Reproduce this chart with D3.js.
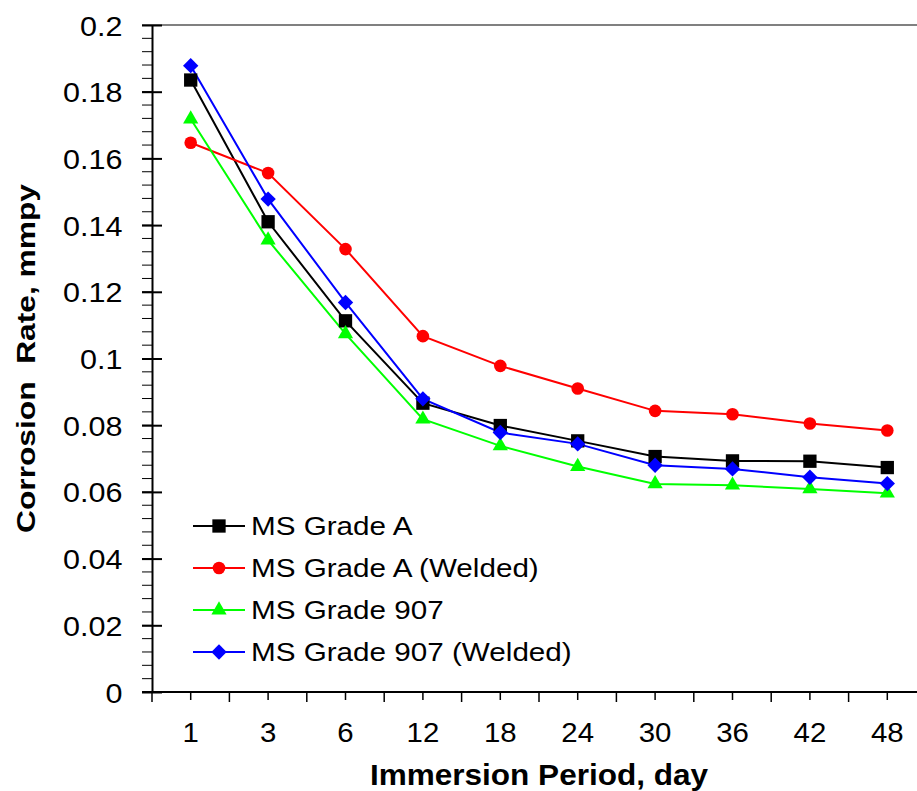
<!DOCTYPE html>
<html>
<head>
<meta charset="utf-8">
<script src="https://cdn.jsdelivr.net/npm/d3@7"></script>
<style>
  html, body { margin: 0; padding: 0; background: #fff; }
  svg { display: block; font-family: "Liberation Sans", Arial, sans-serif; }
</style>
</head>
<body>
<svg id="chart" width="917" height="791"></svg>
<script>
const categories = ["1", "3", "6", "12", "18", "24", "30", "36", "42", "48"];
const gradeA        = [0.1835, 0.1410, 0.1113, 0.0866, 0.0799, 0.0753, 0.0706, 0.0693, 0.0692, 0.0673];
const gradeAWelded  = [0.1647, 0.1556, 0.1328, 0.1067, 0.0978, 0.0910, 0.0843, 0.0833, 0.0805, 0.0784];
const grade907      = [0.1718, 0.1355, 0.1074, 0.0818, 0.0738, 0.0676, 0.0624, 0.0620, 0.0609, 0.0596];
const grade907Weld  = [0.1878, 0.1478, 0.1168, 0.0879, 0.0778, 0.0744, 0.0680, 0.0669, 0.0644, 0.0625];
const seriesNames   = ["MS Grade A", "MS Grade A (Welded)", "MS Grade 907", "MS Grade 907 (Welded)"];
const yTickValues   = [0, 0.02, 0.04, 0.06, 0.08, 0.1, 0.12, 0.14, 0.16, 0.18, 0.2];

const series = [
  { name: seriesNames[0], values: gradeA,       color: "#000000", symbol: d3.symbolSquare,   size: 177, rot: 0 },
  { name: seriesNames[1], values: gradeAWelded, color: "#ff0000", symbol: d3.symbolCircle,   size: 125, rot: 0 },
  { name: seriesNames[2], values: grade907,     color: "#00ff00", symbol: d3.symbolTriangle, size: 100, rot: 0 },
  { name: seriesNames[3], values: grade907Weld, color: "#0000ff", symbol: d3.symbolSquare,   size: 118, rot: 45 }
];

const svg = d3.select("#chart");
const mLeft = 152, mRight = 926, mTop = 25, mBottom = 692;

const x = d3.scaleBand().domain(categories).range([mLeft, mRight]).padding(0);
const y = d3.scaleLinear().domain([0, 0.2]).range([mBottom, mTop]);
const cx = c => x(c) + x.bandwidth() / 2;

// stretch text horizontally (reference font is slightly wider than Liberation Sans)
function stretch(sel, factor) {
  sel.each(function () {
    const w = this.getComputedTextLength();
    d3.select(this).attr("textLength", w * factor).attr("lengthAdjust", "spacingAndGlyphs");
  });
}

// top frame line
svg.append("line")
  .attr("x1", mLeft).attr("x2", 917).attr("y1", mTop).attr("y2", mTop)
  .attr("stroke", "#808080").attr("stroke-width", 2);

// Y minor ticks
const minor = d3.range(0, 0.2001, 0.004);
svg.append("g").selectAll("line").data(minor).join("line")
  .attr("x1", mLeft - 10).attr("x2", mLeft)
  .attr("y1", d => y(d)).attr("y2", d => y(d))
  .attr("stroke", "#000").attr("stroke-width", 1);

// Y axis
const yAxis = d3.axisLeft(y).tickValues(yTickValues)
  .tickFormat(d => String(+d.toFixed(2)))
  .tickSizeInner(10).tickSizeOuter(0).tickPadding(19.5);
const gy = svg.append("g").attr("transform", `translate(${mLeft},0)`).call(yAxis);
gy.attr("font-family", null).attr("font-size", null);
gy.select(".domain").attr("stroke", "#000").attr("stroke-width", 2);
gy.selectAll(".tick line").attr("x1", 10).attr("x2", -10).attr("stroke", "#000").attr("stroke-width", 2);
gy.selectAll(".tick text").attr("font-size", 28).attr("fill", "#000").attr("dy", "0.36em");
stretch(gy.selectAll(".tick text"), 1.09);

// X axis
const xAxis = d3.axisBottom(x).tickSizeInner(8).tickSizeOuter(0);
const gx = svg.append("g").attr("transform", `translate(0,${mBottom})`).call(xAxis);
gx.attr("font-family", null).attr("font-size", null);
gx.select(".domain").attr("stroke", "#000").attr("stroke-width", 2)
  .attr("d", `M${mLeft - 10},0H${mRight}`);
gx.selectAll(".tick line").attr("stroke", "#000").attr("stroke-width", 1.5);
gx.selectAll(".tick text").attr("font-size", 28).attr("fill", "#000")
  .attr("y", 50).attr("dy", 0);
stretch(gx.selectAll(".tick text"), 1.05);

// boundary ticks between categories
svg.append("g").selectAll("line").data(categories).join("line")
  .attr("x1", d => x(d)).attr("x2", d => x(d))
  .attr("y1", mBottom).attr("y2", mBottom + 10)
  .attr("stroke", "#000").attr("stroke-width", 1.5);

// Lines and markers
const line = d3.line().x((d, i) => cx(categories[i])).y(d => y(d));
series.forEach(s => {
  svg.append("path").datum(s.values)
    .attr("d", line).attr("fill", "none")
    .attr("stroke", s.color).attr("stroke-width", 2);
});
series.forEach(s => {
  const sym = d3.symbol().type(s.symbol).size(s.size);
  svg.append("g").selectAll("path").data(s.values).join("path")
    .attr("d", sym)
    .attr("transform", (d, i) => `translate(${cx(categories[i])},${y(d)}) rotate(${s.rot})`)
    .attr("fill", s.color);
});

// Legend
const legY = [526, 568, 610, 652];
series.forEach((s, i) => {
  const g = svg.append("g").attr("transform", `translate(0,${legY[i]})`);
  g.append("line").attr("x1", 193).attr("x2", 245).attr("y1", 0).attr("y2", 0)
    .attr("stroke", s.color).attr("stroke-width", 2);
  g.append("path").attr("d", d3.symbol().type(s.symbol).size(s.size)())
    .attr("transform", `translate(219,0) rotate(${s.rot})`).attr("fill", s.color);
  const t = g.append("text").attr("x", 251).attr("y", 9)
    .attr("font-size", 26).attr("fill", "#000").text(s.name);
  stretch(t, 1.14);
});

// Axis titles
const xt = svg.append("text")
  .attr("x", 539).attr("y", 785)
  .attr("text-anchor", "middle").attr("font-size", 30).attr("font-weight", "bold")
  .text("Immersion Period, day");
xt.attr("textLength", 338).attr("lengthAdjust", "spacingAndGlyphs");

const yt = svg.append("text")
  .attr("transform", `translate(35,${(mTop + mBottom) / 2}) rotate(-90)`)
  .attr("text-anchor", "middle").attr("font-size", 26.5).attr("font-weight", "bold")
  .attr("xml:space", "preserve").style("white-space", "pre")
  .text("Corrosion  Rate, mmpy");
yt.attr("textLength", 349).attr("lengthAdjust", "spacingAndGlyphs");
</script>
</body>
</html>
